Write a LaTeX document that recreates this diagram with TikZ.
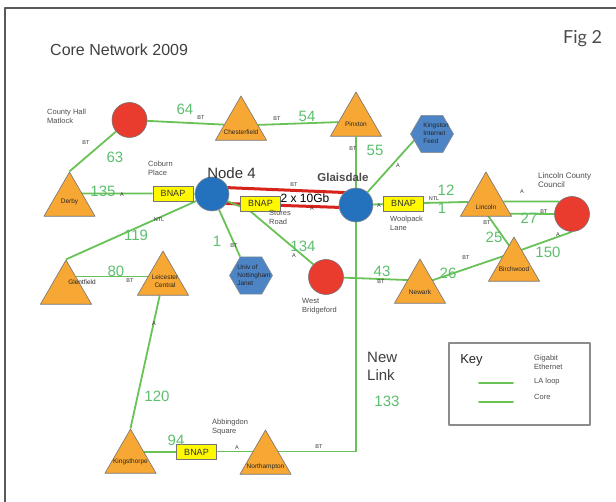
\documentclass[tikz,border=0pt]{standalone}
\usepackage{fontspec}
\setmainfont{Liberation Sans}
\newfontfamily\figfont{Lato}
\usetikzlibrary{shapes.geometric,backgrounds}

\definecolor{linkgreen}{RGB}{104,194,86}
\definecolor{numgreen}{RGB}{92,190,110}
\definecolor{triorange}{RGB}{247,167,52}
\definecolor{sitered}{RGB}{233,60,47}
\definecolor{hubblue}{RGB}{36,113,190}
\definecolor{hexblue}{RGB}{76,132,198}
\definecolor{bnapyellow}{RGB}{255,248,0}
\definecolor{corered}{RGB}{214,36,28}

\begin{document}
\begin{tikzpicture}[
   x=1pt,
   y=1pt,
   line cap=round,
   line join=round,
   every node/.style={font=\fontsize{6}{7}\selectfont,text=black!80,inner sep=0pt},
   link/.style={draw=linkgreen,line width=1.8pt},
   core/.style={draw=corered,line width=3pt},
   tri/.style={regular polygon,regular polygon sides=3,minimum size=59pt,
     fill=triorange,draw=black!55,line width=0.6pt},
   tritext/.style={font=\fontsize{6.5}{7.5}\selectfont,align=center,text=black!85},
   site/.style={circle,minimum size=35pt,fill=sitered,draw=black!55,line width=0.6pt},
   hub/.style={circle,minimum size=34pt,fill=hubblue,draw=black!45,line width=0.6pt},
   hex/.style={regular polygon,regular polygon sides=6,minimum size=43pt,
     fill=hexblue,draw=black!45,line width=0.6pt},
   hextext/.style={font=\fontsize{6.5}{8}\selectfont,align=left,text=black!85},
   bnap/.style={rectangle,minimum width=40pt,minimum height=15pt,fill=bnapyellow,
     draw=black!55,line width=0.8pt,font=\fontsize{9}{9}\selectfont},
   num/.style={font=\fontsize{15}{15}\selectfont,text=numgreen},
   tag/.style={font=\fontsize{5.5}{6}\selectfont},
   place/.style={font=\fontsize{7.5}{9}\selectfont,align=left,anchor=west,text=black!70}
 ]
   \useasboundingbox (0,0) rectangle (616,502);

   % Page frame, title and figure number.
   \draw[black!65,line width=2pt] (616,494) -- (5,494) -- (5,0);
   \node[anchor=west,font=\fontsize{16}{16}\selectfont,text=black!75] (title) at (50,452) {Core Network 2009};
   \node[anchor=base west,font=\figfont\fontsize{18}{18}\selectfont,text=black!70] (fignum) at (563,458) {Fig 2};

   % Sites.
   \node[site] (matlock) at (129.5,382) {};
   \node[tri,label={[tritext,yshift=-6.5pt,name=chesterfieldlbl]center:Chesterfield}] (chesterfield) at (241,376.5) {};
   \node[tri,label={[tritext,yshift=-2.5pt,name=pinxtonlbl]center:Pinxton}] (pinxton) at (356,380.5) {};
   \node[hex,label={[hextext,xshift=4pt,yshift=1pt,name=kingstonlbl]center:Kingston\\Internet\\Feed}] (kingston) at (432,368) {};
   \node[tri,label={[tritext,yshift=-0.5pt,name=derbylbl]center:Derby}] (derby) at (69.5,300.5) {};
   \node[bnap] (bnapC) at (173,308.5) {BNAP};
   \node[hub] (node4) at (212,308) {};
   \node[bnap] (bnapS) at (260.5,298.5) {BNAP};
   \node[hub] (glaisdale) at (356,297) {};
   \node[bnap] (bnapW) at (403.5,298.5) {BNAP};
   \node[tri,label={[tritext,yshift=-5.5pt,name=lincolnlbl]center:Lincoln}] (lincoln) at (486,300.5) {};
   \node[site] (lincolncc) at (572,288) {};
   \node[tri,label={[tritext,yshift=-2.5pt,name=birchwoodlbl]center:Birchwood}] (birchwood) at (514,235.5) {};
   \node[tri,label={[tritext,yshift=-3.5pt,name=newarklbl]center:Newark}] (newark) at (420,213.5) {};
   \node[site] (westbridgeford) at (326,225) {};
   \node[hex,label={[hextext,xshift=3pt,name=janetlbl]center:Univ of\\Nottingham\\Janet}] (janet) at (251,226.5) {};
   \node[tri,label={[tritext,xshift=16pt,yshift=7.5pt,name=glentfieldlbl]center:Glentfield}] (glentfield) at (66,212.5) {};
   \node[tri,label={[tritext,xshift=2pt,yshift=-0.5pt,name=leicesterlbl]center:Leicester\\Central}] (leicester) at (163,221.5) {};
   \node[tri,label={[tritext,yshift=-3.5pt,name=kingsthorpelbl]center:Kingsthorpe}] (kingsthorpe) at (130.5,43.5) {};
   \node[bnap] (bnapA) at (196.5,50) {BNAP};
   \node[tri,label={[tritext,yshift=-7.5pt,name=northamptonlbl]center:Northampton}] (northampton) at (265.5,42.5) {};

   % Links, kept behind the sites.
   \begin{scope}[on background layer]
     \draw[core] ([yshift=7pt]node4.center) -- ([yshift=12pt]glaisdale.center);
     \draw[core] ([yshift=-9pt]node4.center) -- ([yshift=-3pt]glaisdale.center);
     \draw[link] (matlock) -- (chesterfield);
     \draw[link] (chesterfield) -- (pinxton);
     \draw[link] (matlock) -- (derby.corner 1);
     \draw[link] (bnapC -| derby) -- (bnapC) -- (node4);
     \draw[link] (node4.-25) -- ([yshift=-3pt]bnapS.west);
     \draw[link] ([xshift=-10pt]bnapS.south) -- (westbridgeford.135);
     \draw[link] (node4) -- (janet.120);
     \draw[link] (node4) -- (glentfield.corner 1);
     \draw[link] ([yshift=13pt]glentfield.center) -- ([yshift=4pt]leicester.center);
     \draw[link] (leicester) -- (kingsthorpe.corner 1);
     \draw[link] (bnapA -| kingsthorpe) -- (bnapA);
     \draw[link,line width=1pt] (bnapA) -- (bnapA -| northampton);
     \draw[link] (glaisdale) |- ([yshift=8pt]northampton.center);
     \draw[link] (glaisdale) -- (pinxton);
     \draw[link] (glaisdale) -- (kingston.200);
     \draw[link] (glaisdale) -- (bnapW) -- (lincoln);
     \draw[link] (lincoln) -- (lincolncc.135);
     \draw[link] ([yshift=-12pt]lincoln.center) -- (lincolncc.west);
     \coordinate (bwtop) at ([yshift=14pt]birchwood.center);
     \draw[link] ([xshift=-8pt]lincoln.center) -- (bwtop);
     \draw[link] (bwtop) -- (lincolncc.south);
     \draw[link] (westbridgeford) -- ([yshift=8pt]newark.center);
     \draw[link] ([yshift=4pt]newark.center) -- (bwtop);
   \end{scope}

   % Link lengths.
   \node[num] (n64) at (185,393) {64};
   \node[num] (n54) at (307,386) {54};
   \node[num] (n63) at (115,345) {63};
   \node[num] (n55) at (375,352) {55};
   \node[num] (n135) at (103,311) {135};
   \node[num] (n119) at (136,267) {119};
   \node[num] (n1a) at (217,261) {1};
   \node[num] (n134) at (303,256) {134};
   \node[num] (n12) at (446,312) {12};
   \node[num] (n1b) at (442,294) {1};
   \node[num] (n27) at (529,284) {27};
   \node[num] (n25) at (494,265) {25};
   \node[num] (n150) at (548,250) {150};
   \node[num] (n26) at (448,229) {26};
   \node[num] (n43) at (382,231) {43};
   \node[num] (n80) at (116,231) {80};
   \node[num] (n120) at (157,106) {120};
   \node[num] (n94) at (176,62) {94};
   \node[num] (n133) at (387,101) {133};

   % Carriers.
   \node[tag] (bt1) at (201,384) {BT};
   \node[tag] (bt2) at (277,383) {BT};
   \node[tag] (bt3) at (86,359) {BT};
   \node[tag] (bt4) at (353,353) {BT};
   \node[tag] (a1) at (398,336) {A};
   \node[tag] (a2) at (122,307) {A};
   \node[tag] (ntl1) at (159,282) {NTL};
   \node[tag] (bt5) at (234,256) {BT};
   \node[tag] (a3) at (294,246) {A};
   \node[tag] (bt6) at (294,317) {BT};
   \node[tag] (a4) at (312,293.5) {A};
   \node[tag] (a5) at (379,296) {A};
   \node[tag] (ntl2) at (434,303) {NTL};
   \node[tag] (a6) at (522,310) {A};
   \node[tag] (bt7) at (544,290) {BT};
   \node[tag] (bt8) at (487,279) {BT};
   \node[tag] (a7) at (558,267) {A};
   \node[tag] (bt9) at (466,244) {BT};
   \node[tag] (bt10) at (381,220) {BT};
   \node[tag] (bt11) at (130,221) {BT};
   \node[tag] (a8) at (154,178) {A};
   \node[tag] (a9) at (237,54) {A};
   \node[tag] (bt12) at (319,55) {BT};

   % Place names.
   \node[place] (matlocktxt) at (47,386) {County Hall\\Matlock};
   \node[place] (coburn) at (148,334) {Coburn\\Place};
   \node[place] (stores) at (269,284.5) {Stores\\Road};
   \node[place] (woolpack) at (390,279) {Woolpack\\Lane};
   \node[place,font=\fontsize{8}{9.5}\selectfont] (lcctxt) at (538,322) {Lincoln County\\Council};
   \node[place] (wbtxt) at (302,196) {West\\Bridgeford};
   \node[place] (abbingdon) at (212,74.5) {Abbingdon\\Square};
   \node[font=\fontsize{15}{15}\selectfont,text=black!80] (node4txt) at (231.5,329) {Node 4};
   \node[font=\fontsize{11.5}{12}\selectfont\bfseries,text=black!70] (glaisdaletxt) at (343,325) {Glaisdale};
   \node[font=\fontsize{12}{12}\selectfont,text=black] (gbtxt) at (305,304) {2 x 10Gb};
   \node[place,font=\fontsize{15}{18}\selectfont,text=black!75] (newlink) at (367,136) {New\\Link};

   % Key.
   \draw[black!45,line width=1.5pt] (449,77) rectangle (590,159);
   \node[font=\fontsize{13}{13}\selectfont,text=black!85] (keytxt) at (471.5,142) {Key};
   \node[place] (gigabit) at (534,140) {Gigabit\\Ethernet};
   \node[place] (laloop) at (534,120) {LA loop};
   \node[place] (coretxt) at (534,105) {Core};
   \coordinate (laA) at (479,119);
   \coordinate (laB) at (513,119);
   \coordinate (coreA) at (479,100);
   \coordinate (coreB) at (513,100);
   \draw[link] (laA) -- (laB);
   \draw[link] (coreA) -- (coreB);
 \end{tikzpicture}
\end{document}
